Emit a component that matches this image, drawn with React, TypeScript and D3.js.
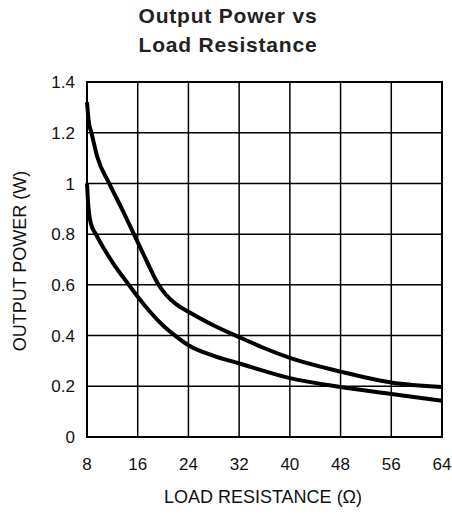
import React from 'react';
import * as d3 from 'd3';

const xTicks = [8, 16, 24, 32, 40, 48, 56, 64];
const yTicks = [0, 0.2, 0.4, 0.6, 0.8, 1, 1.2, 1.4];

// upper curve
const upperR = [8, 8.3, 8.7, 9.6, 11.5, 13.5, 15.4, 17.3, 19.3, 20.5, 22, 24, 28, 32, 36, 40, 48, 56, 64];
const upperP = [1.32, 1.24, 1.2, 1.106, 1.0, 0.9, 0.8, 0.7, 0.6, 0.56, 0.525, 0.494, 0.44, 0.394, 0.35, 0.312, 0.258, 0.215, 0.197];

// lower curve
const lowerR = [8, 8.15, 8.6, 9.4, 10.5, 12, 14.6, 16, 18, 20, 21.9, 24, 28, 32, 40, 48, 56, 64];
const lowerP = [1.0, 0.93, 0.843, 0.8, 0.75, 0.69, 0.6, 0.553, 0.492, 0.44, 0.4, 0.362, 0.32, 0.29, 0.232, 0.197, 0.17, 0.143];

const W = 452;
const H = 516;
const m = { left: 87, right: 10, top: 82, bottom: 79 };

export default function App() {
  const x = d3.scaleLinear().domain([8, 64]).range([m.left, W - m.right]);
  const y = d3.scaleLinear().domain([0, 1.4]).range([H - m.bottom, m.top]);

  const mk = d3.line<number[]>()
    .x(d => x(d[0]))
    .y(d => y(d[1]))
    .curve(d3.curveMonotoneX);

  const up = mk(upperR.map((r, i) => [r, upperP[i]]));
  const lo = mk(lowerR.map((r, i) => [r, lowerP[i]]));

  const font = 'Liberation Sans, Arial, sans-serif';

  return (
    <svg width={W} height={H} style={{ position: 'absolute', left: 0, top: 0, background: '#fff' }}>
      <text x={228} y={23} textAnchor="middle" fontFamily={font} fontWeight="bold" fontSize={21} letterSpacing={0.8} fill="#222">Output Power vs</text>
      <text x={228} y={52} textAnchor="middle" fontFamily={font} fontWeight="bold" fontSize={21} letterSpacing={0.8} fill="#222">Load Resistance</text>

      {xTicks.map(t => (
        <line key={'vx' + t} x1={x(t)} x2={x(t)} y1={y(0)} y2={y(1.4)} stroke="#000" strokeWidth={1.5} />
      ))}
      {yTicks.map(t => (
        <line key={'hy' + t} x1={x(8)} x2={x(64)} y1={y(t)} y2={y(t)} stroke="#000" strokeWidth={1.5} />
      ))}
      <rect x={x(8)} y={y(1.4)} width={x(64) - x(8)} height={y(0) - y(1.4)} fill="none" stroke="#000" strokeWidth={2} />

      <path d={up || ''} fill="none" stroke="#000" strokeWidth={4} />
      <path d={lo || ''} fill="none" stroke="#000" strokeWidth={4} />

      {yTicks.map(t => (
        <text key={'ty' + t} x={75} y={y(t)} dy="0.36em" textAnchor="end" fontFamily={font} fontSize={17} fill="#111">{d3.format('~g')(t)}</text>
      ))}
      {xTicks.map(t => (
        <text key={'tx' + t} x={x(t)} y={470} textAnchor="middle" fontFamily={font} fontSize={17} fill="#111">{t}</text>
      ))}

      <text x={263} y={503} textAnchor="middle" fontFamily={font} fontSize={18} fill="#111">LOAD RESISTANCE (Ω)</text>
      <text transform={`translate(26,261) rotate(-90)`} textAnchor="middle" fontFamily={font} fontSize={18} fill="#111">OUTPUT POWER (W)</text>
    </svg>
  );
}
